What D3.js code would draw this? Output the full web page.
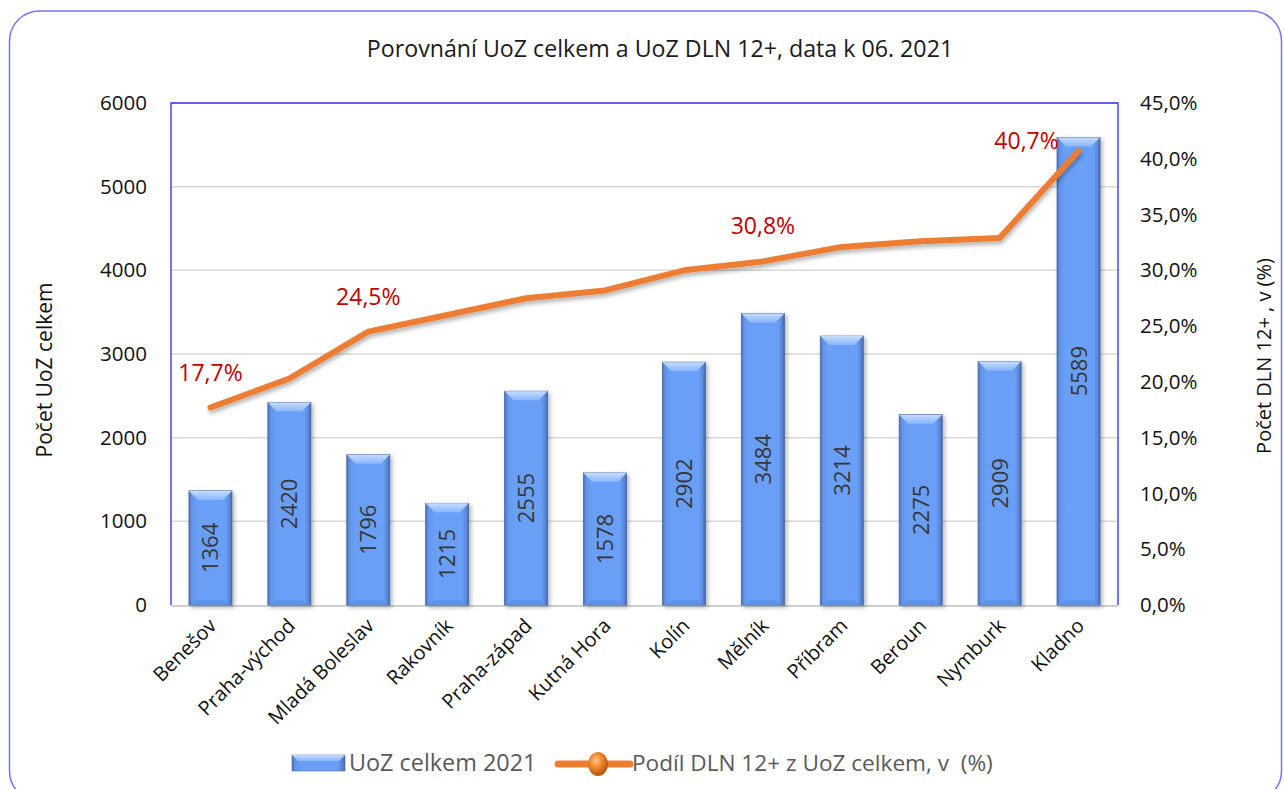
<!DOCTYPE html>
<html><head><meta charset="utf-8">
<script src="https://cdn.jsdelivr.net/npm/d3@7"></script>
<style>body{margin:0;background:#fff}svg{display:block;font-family:"Open Sans",sans-serif}.pre{white-space:pre}</style>
</head><body>
<svg id="c" width="1284" height="789"></svg>
<script>
const categories = ["Benešov","Praha-východ","Mladá Boleslav","Rakovník","Praha-západ","Kutná Hora","Kolín","Mělník","Příbram","Beroun","Nymburk","Kladno"];
const uozTotal = [1364,2420,1796,1215,2555,1578,2902,3484,3214,2275,2909,5589];
const dlnShare = [17.7,20.3,24.5,26.0,27.5,28.2,30.0,30.8,32.1,32.6,32.9,40.7];
const leftTicks = [0,1000,2000,3000,4000,5000,6000];
const rightTicks = [0,5,10,15,20,25,30,35,40,45];
const labelledPoints = [0,2,7,11];
const titleText = "Porovnání UoZ celkem a UoZ DLN 12+, data k 06. 2021";
const leftTitle = "Počet UoZ celkem";
const rightTitle = "Počet DLN 12+ , v (%)";
const legendBar = "UoZ celkem 2021";
const legendLine = "Podíl DLN 12+ z UoZ celkem, v  (%)";

const svg = d3.select("#c");
const L = 171, R = 1118, T = 103, B = 605;
const x = d3.scaleBand().domain(categories).range([L, R]).paddingInner(0.455).paddingOuter(0.2275);
const y = d3.scaleLinear().domain([0, 6000]).range([B, T]);
const y2 = d3.scaleLinear().domain([0, 45]).range([B, T]);
const fmt = v => d3.format(".1f")(v).replace(".", ",") + "%";

const defs = svg.append("defs");
const g1 = defs.append("linearGradient").attr("id","barG").attr("x1","0").attr("x2","1").attr("y1","0").attr("y2","0");
[["0%","#4a72bb"],["7%","#6496ea"],["20%","#6a9ff7"],["85%","#6a9ff7"],["94%","#5a87d8"],["100%","#46679f"]].forEach(s=>g1.append("stop").attr("offset",s[0]).attr("stop-color",s[1]));
const g2 = defs.append("linearGradient").attr("id","topG").attr("x1","0").attr("x2","0").attr("y1","0").attr("y2","1");
[["0%","#c4dcff"],["100%","#8ab6fb"]].forEach(s=>g2.append("stop").attr("offset",s[0]).attr("stop-color",s[1]));
const f = defs.append("filter").attr("id","sh").attr("x","-20%").attr("y","-20%").attr("width","150%").attr("height","150%");
f.append("feDropShadow").attr("dx",2).attr("dy",2).attr("stdDeviation",2).attr("flood-color","#000").attr("flood-opacity",0.3);
const f2 = defs.append("filter").attr("id","lsh").attr("x","-5%").attr("y","-20%").attr("width","110%").attr("height","150%");
f2.append("feDropShadow").attr("dx",1).attr("dy",3).attr("stdDeviation",2).attr("flood-color","#000").attr("flood-opacity",0.3);
const ballG = defs.append("radialGradient").attr("id","ball").attr("cx","40%").attr("cy","35%").attr("r","65%");
[["0%","#ffc48a"],["45%","#f08a2e"],["100%","#b55310"]].forEach(s=>ballG.append("stop").attr("offset",s[0]).attr("stop-color",s[1]));

// outer frame
svg.append("rect").attr("x",9.5).attr("y",11).attr("width",1272).attr("height",790).attr("rx",30)
  .attr("fill","none").attr("stroke","#7474ff").attr("stroke-width",1.5);

// title
svg.append("text").attr("x",660).attr("y",57).attr("text-anchor","middle").attr("font-size",23.2).attr("fill","#1a1a1a").text(titleText);

// gridlines
svg.append("g").selectAll("line").data(leftTicks.filter(t=>t>0 && t<6000)).join("line")
  .attr("x1",L).attr("x2",R).attr("y1",d=>y(d)).attr("y2",d=>y(d)).attr("stroke","#d9d9d9").attr("stroke-width",1.5);

// left axis
const ax = d3.axisLeft(y).tickValues(leftTicks).tickSize(0).tickPadding(24).tickFormat(d3.format("d"));
const ga = svg.append("g").attr("transform",`translate(${L},0)`).call(ax);
ga.select(".domain").remove();
ga.selectAll("text").attr("font-size",20.5).attr("fill","#111").attr("font-family","Open Sans");

// right axis
const ax2 = d3.axisRight(y2).tickValues(rightTicks).tickSize(0).tickPadding(22).tickFormat(d=>d3.format(".1f")(d).replace(".",",")+"%");
const gb = svg.append("g").attr("transform",`translate(${R},0)`).call(ax2);
gb.select(".domain").remove();
gb.selectAll("text").attr("font-size",20.5).attr("fill","#111").attr("font-family","Open Sans");

// axis titles
svg.append("text").attr("transform",`translate(52,${(T+B)/2+16}) rotate(-90)`).attr("text-anchor","middle").attr("font-size",21).attr("fill","#111").text(leftTitle);
svg.append("text").attr("transform",`translate(1271,${(T+B)/2+2}) rotate(-90)`).attr("text-anchor","middle").attr("font-size",20).attr("fill","#111").text(rightTitle);

// x axis line
svg.append("line").attr("x1",L).attr("x2",R).attr("y1",B+1).attr("y2",B+1).attr("stroke","#d0d0d0").attr("stroke-width",2);

// bars
const bars = svg.append("g").selectAll("g").data(categories.map((c,i)=>({c,v:uozTotal[i]}))).join("g");
bars.append("rect").attr("x",d=>x(d.c)).attr("y",d=>y(d.v)).attr("width",x.bandwidth()).attr("height",d=>B-y(d.v))
  .attr("fill","url(#barG)").attr("stroke","#4568a8").attr("stroke-width",0.8).attr("filter","url(#sh)");
const bev = 9;
bars.append("polygon").attr("points",d=>{const x0=x(d.c),x1=x0+x.bandwidth(),y0=y(d.v);return `${x0},${y0} ${x1},${y0} ${x1-bev},${y0+bev} ${x0+bev},${y0+bev}`;})
  .attr("fill","url(#topG)");
bars.append("polygon").attr("points",d=>{const x0=x(d.c),x1=x0+x.bandwidth();return `${x0+1},${B} ${x1-1},${B} ${x1-bev},${B-5} ${x0+bev},${B-5}`;})
  .attr("fill","#5b8ee0").attr("opacity",0.7);
bars.append("text").attr("transform",d=>`translate(${x(d.c)+x.bandwidth()/2+8},${(y(d.v)+B)/2}) rotate(-90)`)
  .attr("text-anchor","middle").attr("font-size",22).attr("fill","#363636").text(d=>d.v);

// line
const line = d3.line().x((d,i)=>x(categories[i])+x.bandwidth()/2).y(d=>y2(d));
svg.append("path").datum(dlnShare).attr("d",line).attr("fill","none").attr("stroke","#ed7d31").attr("stroke-width",6)
  .attr("stroke-linejoin","round").attr("stroke-linecap","round").attr("filter","url(#lsh)");

// line labels
svg.append("g").selectAll("text").data(labelledPoints).join("text")
  .attr("x",i=> i===11 ? x(categories[i])+x.bandwidth()/2-52 : x(categories[i])+x.bandwidth()/2)
  .attr("y",i=> i===11 ? y2(dlnShare[i])-2 : y2(dlnShare[i])-27)
  .attr("text-anchor","middle").attr("font-size",23).attr("fill","#c00000").text(i=>fmt(dlnShare[i]));

// x labels
svg.append("g").selectAll("text").data(categories).join("text")
  .attr("transform",d=>`translate(${x(d)+x.bandwidth()/2+7},${B+22}) rotate(-45)`)
  .attr("text-anchor","end").attr("font-size",20).attr("fill","#111").text(d=>d);

// plot border
svg.append("path").attr("d",`M${L},${B} V${T} H${R} V${B}`).attr("fill","none").attr("stroke","#2b2bff").attr("stroke-width",1.3);

// legend
const lg = svg.append("g");
lg.append("rect").attr("x",292).attr("y",755).attr("width",53).attr("height",16).attr("fill","url(#barG)").attr("stroke","#4568a8").attr("stroke-width",0.6);
lg.append("polygon").attr("points","292,755 345,755 339,761 298,761").attr("fill","url(#topG)");
lg.append("text").attr("x",349).attr("y",771).attr("font-size",23.4).attr("fill","#595959").text(legendBar);
lg.append("line").attr("x1",558).attr("x2",630).attr("y1",764).attr("y2",764).attr("stroke","#ed7d31").attr("stroke-width",7).attr("stroke-linecap","round");
lg.append("ellipse").attr("cx",598).attr("cy",764).attr("rx",10).attr("ry",12).attr("fill","url(#ball)");
lg.append("text").attr("class","pre").attr("x",632).attr("y",771).attr("font-size",22.6).attr("fill","#595959").text(legendLine);
</script>
</body></html>
